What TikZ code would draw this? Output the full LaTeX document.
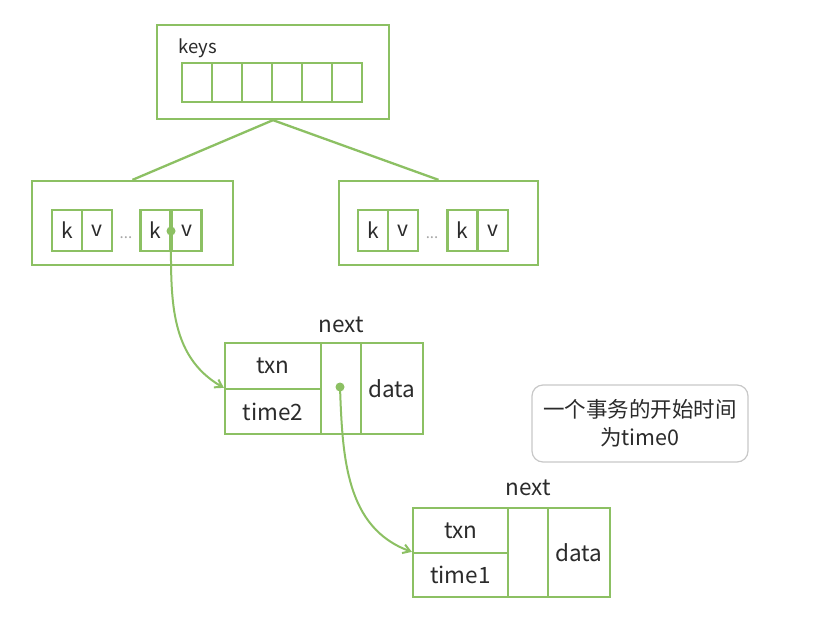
\documentclass[tikz,border=0pt]{standalone}
\usepackage{fontspec}
\setmainfont{Noto Sans CJK SC}
\usepackage{xcolor}
\definecolor{leaf}    {HTML}{8CC063}
\definecolor{ink}     {HTML}{2B2B2B}
\definecolor{noteLine}{HTML}{C8C8C8}
\usetikzlibrary{arrows.meta, positioning, calc}
\tikzset{
    box/.style={draw=leaf, line width=2.3pt, inner sep=0pt},
    cell/.style={box, minimum width=30pt, minimum height=41pt,
                 font=\fontsize{21}{24}\selectfont, text=ink},
    vcell/.style={box, font=\fontsize{22.5}{26}\selectfont, text=ink},
    lbl/.style={font=\fontsize{22.5}{26}\selectfont, text=ink},
    gap/.style={font=\fontsize{15}{16}\selectfont, text=black!35},
    link/.style={-, draw=leaf, line width=2.3pt},
    ptr/.style={-{Straight Barb[length=7pt,width=9pt]}, draw=leaf, line width=2pt},
    pin/.style={circle, fill=leaf, inner sep=0pt, minimum size=9pt},
    note/.style={draw=noteLine, line width=1.2pt, rounded corners=11pt,
                 align=center, text=ink, font=\fontsize{21.5}{28}\selectfont},
}

\begin{document}
\begin{tikzpicture}[x=1pt, y=-1pt]
    \useasboundingbox[fill=white] (0,0) rectangle (822,632);

    % root page with its keys
    \node[box, minimum width=232pt, minimum height=94pt] (root) at (273,72) {};
    \node[anchor=west, text=ink, font=\fontsize{18.5}{20}\selectfont] (keys) at (175,48) {keys};
    \foreach \i in {0,...,5}
        \node[box, minimum width=30pt, minimum height=39pt] (key\i) at ({197+30*\i},82.5) {};

    % leaf pages
    \node[box, minimum width=201pt, minimum height=84pt] (lpage) at (132.5,223) {};
    \node[box, minimum width=199pt, minimum height=84pt] (rpage) at (438.5,223) {};
    \draw[link] (root.south) -- (lpage.north);
    \draw[link] (root.south) -- (rpage.north);

    \node[cell] (lk1) at (67,230.5)    {k};
    \node[cell] (lv1) at (97,230.5)    {v};
    \node[gap]  (ldots) at (126,238)   {...};
    \node[cell] (lk2) at (155.5,230.5) {k};
    \node[cell] (lv2) at (186.5,230.5) {v};

    \node[cell] (rk1) at (373,230.5)   {k};
    \node[cell] (rv1) at (403,230.5)   {v};
    \node[gap]  (rdots) at (432,238)   {...};
    \node[cell] (rk2) at (462.5,230.5) {k};
    \node[cell] (rv2) at (493,230.5)   {v};

    % first version
    \node[vcell, minimum width=96pt, minimum height=46pt] (txnA)  at (273,366)   {txn};
    \node[vcell, minimum width=96pt, minimum height=45pt] (timeA) at (273,411.5) {time2};
    \node[vcell, minimum width=40pt, minimum height=91pt] (nextA) at (341,388.5) {};
    \node[vcell, minimum width=62pt, minimum height=91pt] (dataA) at (392,388.5) {data};
    \node[lbl] (nextAlbl) at (341,325) {next};

    % second version
    \node[vcell, minimum width=95pt, minimum height=45pt] (txnB)  at (460.5,530.5) {txn};
    \node[vcell, minimum width=95pt, minimum height=44pt] (timeB) at (460.5,575)   {time1};
    \node[vcell, minimum width=40pt, minimum height=89pt] (nextB) at (528,552.5)   {};
    \node[vcell, minimum width=62pt, minimum height=89pt] (dataB) at (579,552.5)   {data};
    \node[lbl] (nextBlbl) at (528,488) {next};

    % pointers
    \node[pin] (pinA) at (171,231) {};
    \node[pin] (pinB) at (340,387) {};
    \draw[ptr] (pinA.center) to[out=-90, in=150] (timeA.north west);
    \draw[ptr] (pinB.center) to[out=-88, in=160] (timeB.north west);

    \node[note, minimum width=216pt, minimum height=77pt] (start) at (640,423.5)
        {一个事务的开始时间\\为time0};
\end{tikzpicture}
\end{document}
